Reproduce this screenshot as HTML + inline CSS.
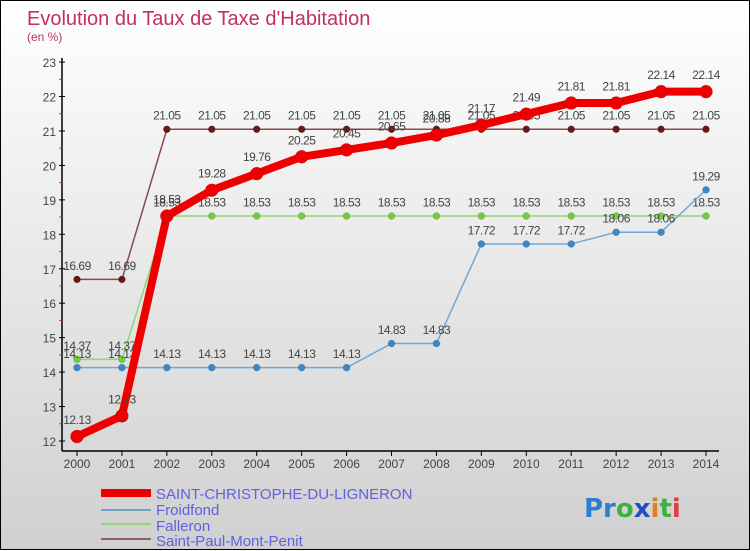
<!DOCTYPE html>
<html><head><meta charset="utf-8"><style>
html,body{margin:0;padding:0}
body{width:750px;height:550px;overflow:hidden;font-family:"Liberation Sans",sans-serif}
#wrap{position:relative;width:748px;height:548px;border:1px solid #000;background:linear-gradient(#ffffff 0%,#ececec 40%,#d0d0d0 100%)}
svg{position:absolute;left:0;top:0}
</style></head><body>
<div id="wrap">
<svg id="chart" width="750" height="550">
<text x="26" y="24" font-size="20" fill="#c03060">Evolution du Taux de Taxe d'Habitation</text>
<text x="26" y="40" font-size="12" fill="#c03060">(en %)</text>
<g id="axes"></g><g id="series"></g>
<g>
<rect x="100" y="488" width="50" height="8" fill="#ee0000"/>
<text x="155" y="498" font-size="15" fill="#6060e0">SAINT-CHRISTOPHE-DU-LIGNERON</text>
<rect x="100" y="508" width="50" height="2" fill="#6fa0c8"/>
<text x="155" y="514" font-size="15" fill="#6060e0">Froidfond</text>
<rect x="100" y="522" width="50" height="2" fill="#90d870"/>
<text x="155" y="530" font-size="15" fill="#6060e0">Falleron</text>
<rect x="100" y="537" width="50" height="2" fill="#906060"/>
<text x="155" y="545" font-size="15" fill="#6060e0">Saint-Paul-Mont-Penit</text>
</g>
<text x="583" y="516" font-size="26" font-family="'DejaVu Sans',sans-serif" font-weight="bold"><tspan fill="#2a7fd0">Pr</tspan><tspan fill="#40b040">o</tspan><tspan fill="#2050c0">x</tspan><tspan fill="#e08020">i</tspan><tspan fill="#40b040">t</tspan><tspan fill="#e04040">i</tspan></text>
</svg></div>
<script>
const years=[2000,2001,2002,2003,2004,2005,2006,2007,2008,2009,2010,2011,2012,2013,2014];
const yTicks=[12,13,14,15,16,17,18,19,20,21,22,23];
const scdl=[12.13,12.73,18.53,19.28,19.76,20.25,20.45,20.65,20.88,21.17,21.49,21.81,21.81,22.14,22.14];
const froidfond=[14.13,14.13,14.13,14.13,14.13,14.13,14.13,14.83,14.83,17.72,17.72,17.72,18.06,18.06,19.29];
const falleron=[14.37,14.37,18.53,18.53,18.53,18.53,18.53,18.53,18.53,18.53,18.53,18.53,18.53,18.53,18.53];
const saintPaul=[16.69,16.69,21.05,21.05,21.05,21.05,21.05,21.05,21.05,21.05,21.05,21.05,21.05,21.05,21.05];
const NS="http://www.w3.org/2000/svg";
const xs=i=>76+i*(705-76)/14;
const ys=v=>440-(v-12)*34.45;
function mk(p,t,a){const e=document.createElementNS(NS,t);for(const k in a)e.setAttribute(k,a[k]);p.appendChild(e);return e;}
const ax=document.getElementById('axes');
let l=mk(ax,'line',{x1:61,y1:57,x2:61,y2:450,stroke:'#000','stroke-width':1.5});


l=mk(ax,'line',{x1:61,y1:450,x2:718,y2:450,stroke:'#000','stroke-width':1.5});


yTicks.forEach((v,i)=>{
  const y=ys(v);
  mk(ax,'line',{x1:58,y1:y,x2:64,y2:y,stroke:'#000'});
  if(i<yTicks.length-1)mk(ax,'line',{x1:58,y1:ys(v+0.5),x2:61,y2:ys(v+0.5),stroke:'#e03030'});
  const t=mk(ax,'text',{x:55,y:y+5,'font-size':12,fill:'#444','text-anchor':'end'});
  t.textContent=v;
  
  
});
years.forEach((yr,i)=>{
  const x=xs(i);
  mk(ax,'line',{x1:x,y1:450,x2:x,y2:455,stroke:'#000'});
  const t=mk(ax,'text',{x:x,y:467,'font-size':12,fill:'#444','text-anchor':'middle'});
  t.textContent=yr;
  
  
});
const sg=document.getElementById('series');
function series(name,data,color,w,r,dot){
  const g=mk(sg,'g',{});
  
  
  const p=mk(g,'polyline',{points:data.map((v,i)=>xs(i)+','+ys(v)).join(' '),fill:'none',stroke:color,'stroke-width':w,'stroke-linejoin':'round'});
  
  
  data.forEach((v,i)=>{
    const c=mk(g,'circle',{cx:xs(i),cy:ys(v),r:r,fill:dot,stroke:'rgba(0,0,0,0.2)','stroke-width':0.5});
    
    
    const t=mk(g,'text',{x:xs(i),y:ys(v)-(r+6),'font-size':12,fill:'#444','text-anchor':'middle','letter-spacing':'-0.5'});
    t.textContent=v.toFixed(2);
    
    
  });
}
series('saint-paul',saintPaul,'#8a4a4a',1.5,3.5,'#6a1818');
series('falleron',falleron,'#90d870',1.5,3.5,'#70cc40');
series('froidfond',froidfond,'#6fa8d8',1.5,3.5,'#3a88c8');
series('saint-christophe',scdl,'#ee0000',8,6.5,'#ee0000');
</script>
</body></html>
